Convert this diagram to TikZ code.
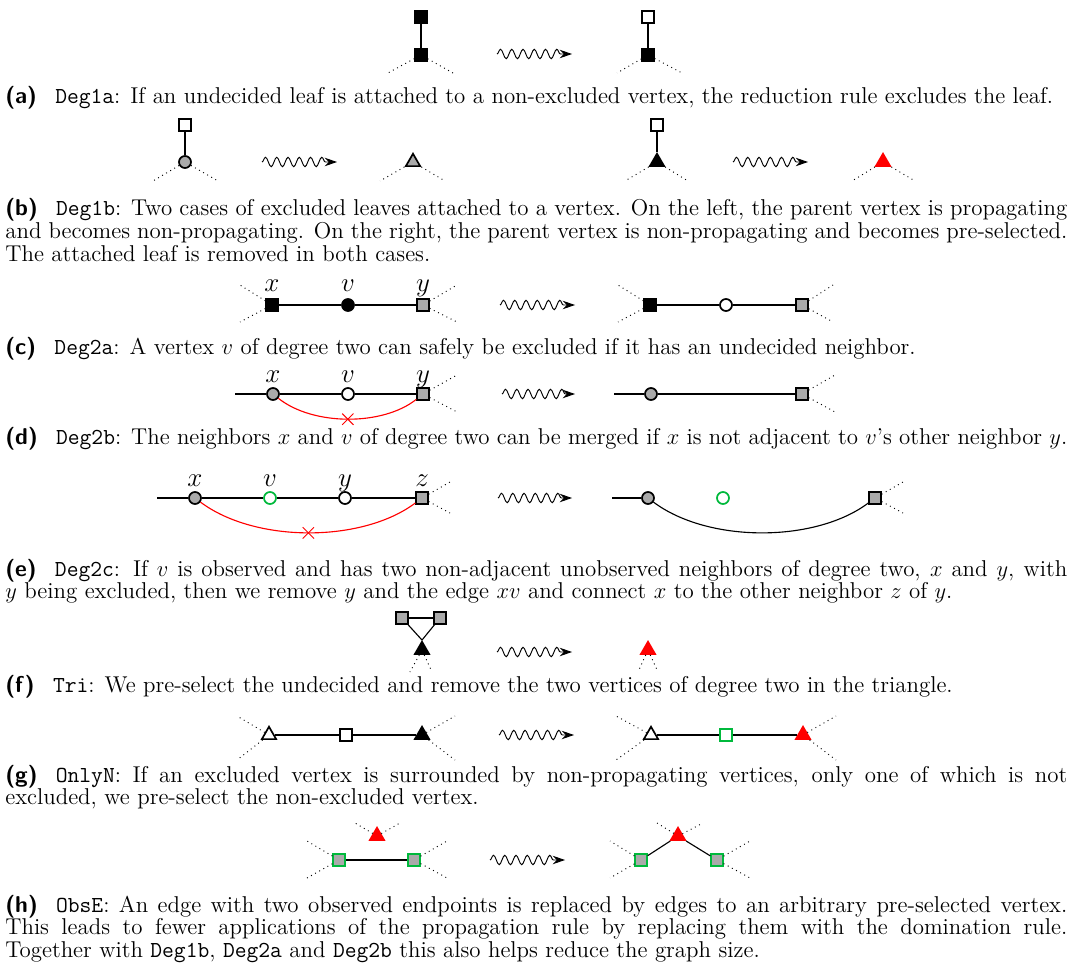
\documentclass[tikz,border=0pt]{standalone}
\usepackage{fontspec}
\usetikzlibrary{shapes.geometric,shapes.misc,decorations.pathmorphing,arrows.meta}
\definecolor{vgray}{RGB}{170,170,170}
\definecolor{vgreen}{RGB}{0,185,60}
\definecolor{vred}{RGB}{255,0,0}
\newcommand{\sublab}[1]{{\sffamily\bfseries(#1)}\hspace{0.8em}}
\begin{document}
\begin{tikzpicture}[x=0.533pt,y=-0.533pt,
  vtx/.style={draw=black, line width=0.9pt, inner sep=0pt, minimum size=6.2pt},
  sq/.style={vtx, rectangle},
  ci/.style={vtx, circle, minimum size=6.4pt},
  tri/.style={vtx, regular polygon, regular polygon sides=3, minimum size=8.8pt},
  blk/.style={fill=black},
  wht/.style={fill=white},
  gry/.style={fill=vgray},
  grn/.style={draw=vgreen},
  rd/.style={fill=vred, draw=vred},
  ln/.style={line width=0.6pt},
  dotl/.style={dotted, line width=0.5pt},
  wig/.style={decorate, decoration={snake, amplitude=2.5pt, segment length=6pt, post length=4pt}, -{Stealth[length=6.5pt,width=4.5pt]}, line width=0.5pt},
  lab/.style={anchor=base, font=\fontsize{14.6pt}{16pt}\selectfont, inner sep=0pt},
  captxt/.style={anchor=base west, text width=566pt, align=justify, inner sep=0pt, font=\fontsize{12.2pt}{12pt}\selectfont},
  redx/.style={draw=vred, cross out, minimum size=5.5pt, inner sep=0pt, line width=0.5pt},
]
\useasboundingbox (0,0) rectangle (1075,969);

% ---------- (a)
\node[sq,blk] (a1) at (421,17) {};
\node[sq,blk] (a2) at (421,55) {};
\coordinate (a2l) at (388,73); \coordinate (a2r) at (453,73);
\draw[ln] (a1) -- (a2);
\draw[dotl] (a2) -- (a2l); \draw[dotl] (a2) -- (a2r);
\coordinate (aw1) at (497,54); \coordinate (aw2) at (572,54);
\draw[wig] (aw1) -- (aw2);
\node[sq,wht] (a3) at (648,17) {};
\node[sq,blk] (a4) at (648,55) {};
\coordinate (a4l) at (617,73); \coordinate (a4r) at (682,73);
\draw[ln] (a3) -- (a4);
\draw[dotl] (a4) -- (a4l); \draw[dotl] (a4) -- (a4r);
\node[captxt] (capa) at (5,104) {\sublab{a}\texttt{Deg1a}: If an undecided leaf is attached to a non-excluded vertex, the reduction rule excludes the leaf.};

% ---------- (b)
\node[sq,wht] (b1) at (185,125) {};
\node[ci,gry] (b2) at (185,162) {};
\coordinate (b2l) at (153,181); \coordinate (b2r) at (218,181);
\draw[ln] (b1) -- (b2);
\draw[dotl] (b2) -- (b2l); \draw[dotl] (b2) -- (b2r);
\coordinate (bw1) at (262,162); \coordinate (bw2) at (337,162);
\draw[wig] (bw1) -- (bw2);
\node[tri,gry] (b3) at (413,162) {};
\coordinate (b3l) at (380,181); \coordinate (b3r) at (445,181);
\draw[dotl] (b3) -- (b3l); \draw[dotl] (b3) -- (b3r);
\node[sq,wht] (b4) at (657,125) {};
\node[tri,blk] (b5) at (657,162) {};
\coordinate (b5l) at (625,181); \coordinate (b5r) at (688,181);
\draw[ln] (b4) -- (b5);
\draw[dotl] (b5) -- (b5l); \draw[dotl] (b5) -- (b5r);
\coordinate (bw3) at (733,162); \coordinate (bw4) at (808,162);
\draw[wig] (bw3) -- (bw4);
\node[tri,rd] (b6) at (883,162) {};
\coordinate (b6l) at (852,181); \coordinate (b6r) at (915,181);
\draw[dotl] (b6) -- (b6l); \draw[dotl] (b6) -- (b6r);
\node[captxt] (capb) at (5,216) {\sublab{b}\texttt{Deg1b}: Two cases of excluded leaves attached to a vertex. On the left, the parent vertex is propagating\linebreak and becomes non-propagating. On the right, the parent vertex is non-propagating and becomes pre-selected.\linebreak The attached leaf is removed in both cases.};

% ---------- (c)
\node[sq,blk] (cx) at (272,305) {};
\node[ci,blk] (cv) at (348,305) {};
\node[sq,gry] (cy) at (423,305) {};
\node[lab] (lcx) at (272,292) {$x$};
\node[lab] (lcv) at (348,292) {$v$};
\node[lab] (lcy) at (423,292) {$y$};
\draw[ln] (cx) -- (cv) -- (cy);
\coordinate (cxa) at (240,285); \coordinate (cxb) at (240,322);
\coordinate (cya) at (457,285); \coordinate (cyb) at (457,322);
\draw[dotl] (cx) -- (cxa); \draw[dotl] (cx) -- (cxb);
\draw[dotl] (cy) -- (cya); \draw[dotl] (cy) -- (cyb);
\coordinate (cw1) at (500,305); \coordinate (cw2) at (575,305);
\draw[wig] (cw1) -- (cw2);
\node[sq,blk] (cx2) at (650,305) {};
\node[ci,wht] (cv2) at (726,305) {};
\node[sq,gry] (cy2) at (802,305) {};
\draw[ln] (cx2) -- (cv2) -- (cy2);
\coordinate (cxc) at (618,285); \coordinate (cxd) at (618,322);
\coordinate (cyc) at (833,285); \coordinate (cyd) at (833,322);
\draw[dotl] (cx2) -- (cxc); \draw[dotl] (cx2) -- (cxd);
\draw[dotl] (cy2) -- (cyc); \draw[dotl] (cy2) -- (cyd);
\node[captxt] (capc) at (5,354) {\sublab{c}\texttt{Deg2a}: A vertex $v$ of degree two can safely be excluded if it has an undecided neighbor.};

% ---------- (d)
\coordinate (d0) at (235,394);
\node[ci,gry] (dx) at (273,394) {};
\node[ci,wht] (dv) at (348,394) {};
\node[sq,gry] (dy) at (423,394) {};
\node[lab] (ldx) at (273,382) {$x$};
\node[lab] (ldv) at (348,382) {$v$};
\node[lab] (ldy) at (423,382) {$y$};
\draw[ln] (d0) -- (dx) -- (dv) -- (dy);
\draw[ln, vred] (dx) .. controls +(40,32) and +(-40,32) .. (dy) node[redx, pos=0.5] (dcross) {};
\coordinate (dya) at (457,375); \coordinate (dyb) at (457,412);
\draw[dotl] (dy) -- (dya); \draw[dotl] (dy) -- (dyb);
\coordinate (dw1) at (502,394); \coordinate (dw2) at (575,394);
\draw[wig] (dw1) -- (dw2);
\coordinate (d1) at (614,394);
\node[ci,gry] (dx2) at (651,394) {};
\node[sq,gry] (dy2) at (802,394) {};
\draw[ln] (d1) -- (dx2) -- (dy2);
\coordinate (dyc) at (835,375); \coordinate (dyd) at (835,412);
\draw[dotl] (dy2) -- (dyc); \draw[dotl] (dy2) -- (dyd);
\node[captxt] (capd) at (5,444) {\sublab{d}\texttt{Deg2b}: The neighbors $x$ and $v$ of degree two can be merged if $x$ is not adjacent to $v$'s other neighbor $y$.};

% ---------- (e)
\coordinate (e0) at (157,498);
\node[ci,gry] (ex) at (195,498) {};
\node[ci,wht,grn] (ev) at (270,498) {};
\node[ci,wht] (ey) at (345,498) {};
\node[sq,gry] (ez) at (422,498) {};
\node[lab] (lex) at (195,486) {$x$};
\node[lab] (lev) at (270,486) {$v$};
\node[lab] (ley) at (345,486) {$y$};
\node[lab] (lez) at (422,486) {$z$};
\draw[ln] (e0) -- (ex) -- (ev) -- (ey) -- (ez);
\draw[ln, vred] (ex) .. controls +(60,45) and +(-60,45) .. (ez) node[redx, pos=0.5] (ecross) {};
\coordinate (eza) at (450,482); \coordinate (ezb) at (450,513);
\draw[dotl] (ez) -- (eza); \draw[dotl] (ez) -- (ezb);
\coordinate (ew1) at (498,498); \coordinate (ew2) at (572,498);
\draw[wig] (ew1) -- (ew2);
\coordinate (e1) at (612,498);
\node[ci,gry] (ex2) at (648,498) {};
\node[ci,wht,grn] (ev2) at (723,498) {};
\node[sq,gry] (ez2) at (875,498) {};
\draw[ln] (e1) -- (ex2);
\draw[ln] (ex2) .. controls +(60,45) and +(-60,45) .. (ez2);
\coordinate (ezc) at (903,482); \coordinate (ezd) at (903,513);
\draw[dotl] (ez2) -- (ezc); \draw[dotl] (ez2) -- (ezd);
\node[captxt] (cape) at (5,576) {\sublab{e}\texttt{Deg2c}: If $v$ is observed and has two non-adjacent unobserved neighbors of degree two, $x$ and $y$, with\linebreak $y$ being excluded, then we remove $y$ and the edge $xv$ and connect $x$ to the other neighbor $z$ of $y$.};

% ---------- (f)
\node[sq,gry] (fs1) at (402,618) {};
\node[sq,gry] (fs2) at (440,618) {};
\node[tri,blk] (ft) at (422,650) {};
\draw[ln] (fs1) -- (fs2);
\draw[ln] (fs1) -- (ft.corner 1);
\draw[ln] (fs2) -- (ft.corner 1);
\coordinate (fta) at (410,672); \coordinate (ftb) at (432,672);
\draw[dotl] (ft) -- (fta); \draw[dotl] (ft) -- (ftb);
\coordinate (fw1) at (497,652); \coordinate (fw2) at (572,652);
\draw[wig] (fw1) -- (fw2);
\node[tri,rd] (ft2) at (648,650) {};
\coordinate (ftc) at (638,672); \coordinate (ftd) at (658,672);
\draw[dotl] (ft2) -- (ftc); \draw[dotl] (ft2) -- (ftd);
\node[captxt] (capf) at (5,692) {\sublab{f}\texttt{Tri}: We pre-select the undecided and remove the two vertices of degree two in the triangle.};

% ---------- (g)
\node[tri,wht] (gt1) at (269,735) {};
\node[sq,wht] (gs) at (346,735) {};
\node[tri,blk] (gt2) at (422,735) {};
\draw[ln] (gt1) -- (gs) -- (gt2);
\coordinate (gta) at (237,716); \coordinate (gtb) at (237,760);
\coordinate (gtc) at (455,716); \coordinate (gtd) at (455,760);
\draw[dotl] (gt1) -- (gta); \draw[dotl] (gt1) -- (gtb);
\draw[dotl] (gt2) -- (gtc); \draw[dotl] (gt2) -- (gtd);
\coordinate (gw1) at (499,735); \coordinate (gw2) at (574,735);
\draw[wig] (gw1) -- (gw2);
\node[tri,wht] (gt3) at (651,735) {};
\node[sq,wht,grn] (gs2) at (726,735) {};
\node[tri,rd] (gt4) at (803,735) {};
\draw[ln] (gt3) -- (gs2) -- (gt4);
\coordinate (gte) at (616,716); \coordinate (gtf) at (616,760);
\coordinate (gtg) at (836,716); \coordinate (gth) at (836,760);
\draw[dotl] (gt3) -- (gte); \draw[dotl] (gt3) -- (gtf);
\draw[dotl] (gt4) -- (gtg); \draw[dotl] (gt4) -- (gth);
\node[captxt] (capg) at (5,782) {\sublab{g}\texttt{OnlyN}: If an excluded vertex is surrounded by non-propagating vertices, only one of which is not\linebreak excluded, we pre-select the non-excluded vertex.};

% ---------- (h)
\node[tri,rd] (ht) at (377,836) {};
\coordinate (hta) at (355,823); \coordinate (htb) at (400,823);
\draw[dotl] (ht) -- (hta); \draw[dotl] (ht) -- (htb);
\node[sq,gry,grn] (hs1) at (339,860) {};
\node[sq,gry,grn] (hs2) at (414,860) {};
\draw[ln] (hs1) -- (hs2);
\coordinate (hsa) at (307,841); \coordinate (hsb) at (307,878);
\coordinate (hsc) at (447,841); \coordinate (hsd) at (447,878);
\draw[dotl] (hs1) -- (hsa); \draw[dotl] (hs1) -- (hsb);
\draw[dotl] (hs2) -- (hsc); \draw[dotl] (hs2) -- (hsd);
\coordinate (hw1) at (490,860); \coordinate (hw2) at (565,860);
\draw[wig] (hw1) -- (hw2);
\node[tri,rd] (ht2) at (678,836) {};
\coordinate (htc) at (657,823); \coordinate (htd) at (703,823);
\draw[dotl] (ht2) -- (htc); \draw[dotl] (ht2) -- (htd);
\node[sq,gry,grn] (hs3) at (641,860) {};
\node[sq,gry,grn] (hs4) at (717,860) {};
\draw[ln] (hs3) -- (ht2) -- (hs4);
\coordinate (hse) at (610,841); \coordinate (hsf) at (610,878);
\coordinate (hsg) at (750,841); \coordinate (hsh) at (750,878);
\draw[dotl] (hs3) -- (hse); \draw[dotl] (hs3) -- (hsf);
\draw[dotl] (hs4) -- (hsg); \draw[dotl] (hs4) -- (hsh);
\node[captxt] (caph) at (5,912) {\sublab{h}\texttt{ObsE}: An edge with two observed endpoints is replaced by edges to an arbitrary pre-selected vertex.\linebreak This leads to fewer applications of the propagation rule by replacing them with the domination rule.\linebreak Together with \texttt{Deg1b}, \texttt{Deg2a} and \texttt{Deg2b} this also helps reduce the graph size.};
\end{tikzpicture}
\end{document}
